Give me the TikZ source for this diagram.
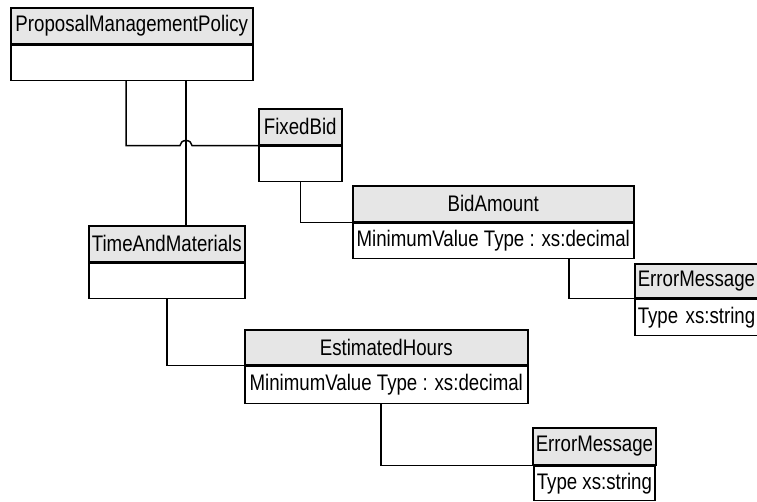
\documentclass[tikz,border=0pt]{standalone}
\usepackage{fontspec}
\setmainfont[FakeStretch=0.83]{Liberation Sans}
\usetikzlibrary{positioning, calc}
\definecolor{hdrgray}{RGB}{230,230,230}

\begin{document}
\begin{tikzpicture}[
  x=1pt, y=-1pt,
  font=\fontsize{22.5}{26}\selectfont,
  line width=1.5pt,
  hdr/.style={draw, fill=hdrgray, anchor=north west, minimum height=36pt, inner sep=3pt},
  bdy/.style={draw, fill=white, below=0pt of #1, minimum height=35pt, inner sep=3pt},
]
\useasboundingbox (0,0) rectangle (757,501);

% classes
\node[hdr, minimum width=242pt] (pmp) at (10,7) {ProposalManagementPolicy};
\node[bdy=pmp, minimum width=242pt] (pmpb) {};
\node[hdr, minimum width=83pt] (fb) at (258,108) {FixedBid};
\node[bdy=fb, minimum width=83pt] (fbb) {};
\node[hdr, minimum width=156pt] (tam) at (88,225) {TimeAndMaterials};
\node[bdy=tam, minimum width=156pt] (tamb) {};
\node[hdr, minimum width=281pt] (bid) at (352,185) {BidAmount};
\node[bdy=bid, minimum width=281pt] (bidb) {MinimumValue Type : xs:decimal};
\node[hdr, minimum height=34pt, text width=130pt, align=left] (err1) at (634,263) {ErrorMessage};
\node[bdy=err1, minimum height=36pt, text width=130pt, align=left] (err1b) {Type xs:string};
\node[hdr, minimum width=283pt, minimum height=35pt] (est) at (244,329) {EstimatedHours};
\node[bdy=est, minimum width=283pt, minimum height=37pt] (estb) {MinimumValue Type : xs:decimal};
\node[hdr, minimum width=95pt, minimum height=37pt] (err2) at (532,427) {ErrorMessage};
\node[bdy=err2, minimum width=95pt, minimum height=34pt] (err2b) {Type xs:string};

% links
\coordinate (pa) at ([xshift=116pt]pmpb.south west);
\coordinate (pb) at ([xshift=176pt]pmpb.south west);
\draw (pb) -- (pb |- tam.north);
\draw (pa) |- ($(pb |- fbb.north west)+(-6,0)$)
  arc[start angle=180, end angle=0, x radius=6pt, y radius=5pt] -- (fbb.north west);
\draw (fbb.south) |- (bidb.north west);
\draw ([xshift=217pt]bidb.south west) |- (err1b.north west);
\draw (tamb.south) |- (estb.north west);
\draw ([xshift=137pt]estb.south west) |- (err2b.north west);
\end{tikzpicture}
\end{document}
